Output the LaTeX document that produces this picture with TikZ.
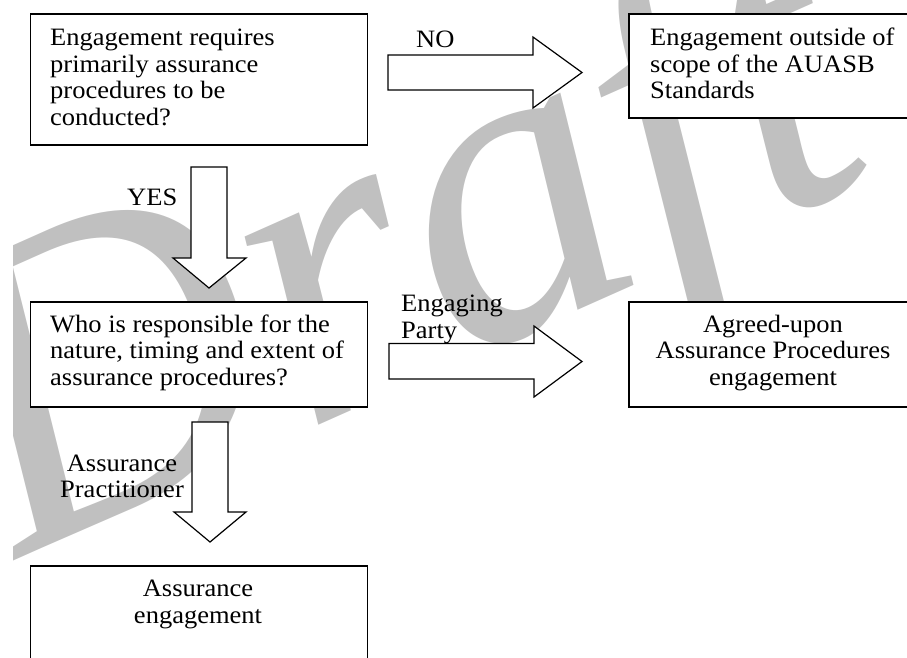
\documentclass[tikz,border=0pt]{standalone}
\usepackage{fontspec}
\setmainfont{Liberation Serif}[FakeStretch=1.06]
\newfontfamily\wmfont{Liberation Serif}
\definecolor{wmgray}{RGB}{192,192,192}
\begin{document}
\begin{tikzpicture}[x=1pt,y=-1pt,
  box/.style={draw=black, fill=white, line width=1.5pt, rectangle, inner sep=0pt, anchor=north west},
  blockarrow/.style={draw=black, fill=white, line width=1.2pt, line join=miter},
  txt/.style={inner sep=0pt, font=\fontsize{25}{26.7}\selectfont},
  wm/.style={inner sep=0pt, text=wmgray, font=\wmfont\itshape\fontsize{440}{440}\selectfont}]
\clip (0,0) rectangle (907,657);
% watermark
\begin{scope}
\clip (13,0) rectangle (907,657);
\node[wm, rotate=24, anchor=base west] (wmark) at (12,562) {Draft};
\end{scope}
% boxes
\node[box, minimum width=337pt, minimum height=131pt] (b1) at (29.5,13) {};
\node[box, minimum width=290pt, minimum height=104pt] (b2) at (628,13) {};
\node[box, minimum width=337pt, minimum height=105pt] (b3) at (29.5,301) {};
\node[box, minimum width=290pt, minimum height=105pt] (b4) at (628,301) {};
\node[box, minimum width=337pt, minimum height=110pt] (b5) at (29.5,565) {};
% block arrows
\draw[blockarrow] (388,55) -- (533,55) -- (533,37) -- (582,72.5) -- (533,108) -- (533,90) -- (388,90) -- cycle;
\draw[blockarrow] (389,343.5) -- (534,343.5) -- (534,326) -- (582,361.5) -- (534,397) -- (534,379) -- (389,379) -- cycle;
\draw[blockarrow] (191,167) -- (227,167) -- (227,258) -- (246,258) -- (209,288) -- (173,258) -- (191,258) -- cycle;
\draw[blockarrow] (192,422) -- (228,422) -- (228,512) -- (246,512) -- (210,542) -- (174,512) -- (192,512) -- cycle;
% box texts
\node[txt, anchor=base west] (t1) at (50,45.5) {\vtop{\hbox{Engagement requires}\hbox{primarily assurance}\hbox{procedures to be}\hbox{conducted?}}};
\node[txt, anchor=base west] (t2) at (650,45.5) {\vtop{\hbox{Engagement outside of}\hbox{scope of the AUASB}\hbox{Standards}}};
\node[txt, anchor=base west] (t3) at (50,332) {\vtop{\hbox{Who is responsible for the}\hbox{nature, timing and extent of}\hbox{assurance procedures?}}};
\node[txt, anchor=base] (t4) at (773,332) {\vtop{\hbox to 0pt{\hss Agreed-upon\hss}\hbox to 0pt{\hss Assurance Procedures\hss}\hbox to 0pt{\hss engagement\hss}}};
\node[txt, anchor=base] (t5) at (198,596.5) {\vtop{\hbox to 0pt{\hss Assurance\hss}\hbox to 0pt{\hss engagement\hss}}};
% arrow labels
\node[txt, anchor=base west] (lno) at (416,47) {NO};
\node[txt, anchor=base west] (lyes) at (127,205) {YES};
\node[txt, anchor=base west] (leng) at (401,311.5) {\vtop{\hbox{Engaging}\hbox{Party}}};
\node[txt, anchor=base] (lap) at (122,471) {\vtop{\hbox to 0pt{\hss Assurance\hss}\hbox to 0pt{\hss Practitioner\hss}}};
\end{tikzpicture}
\end{document}
